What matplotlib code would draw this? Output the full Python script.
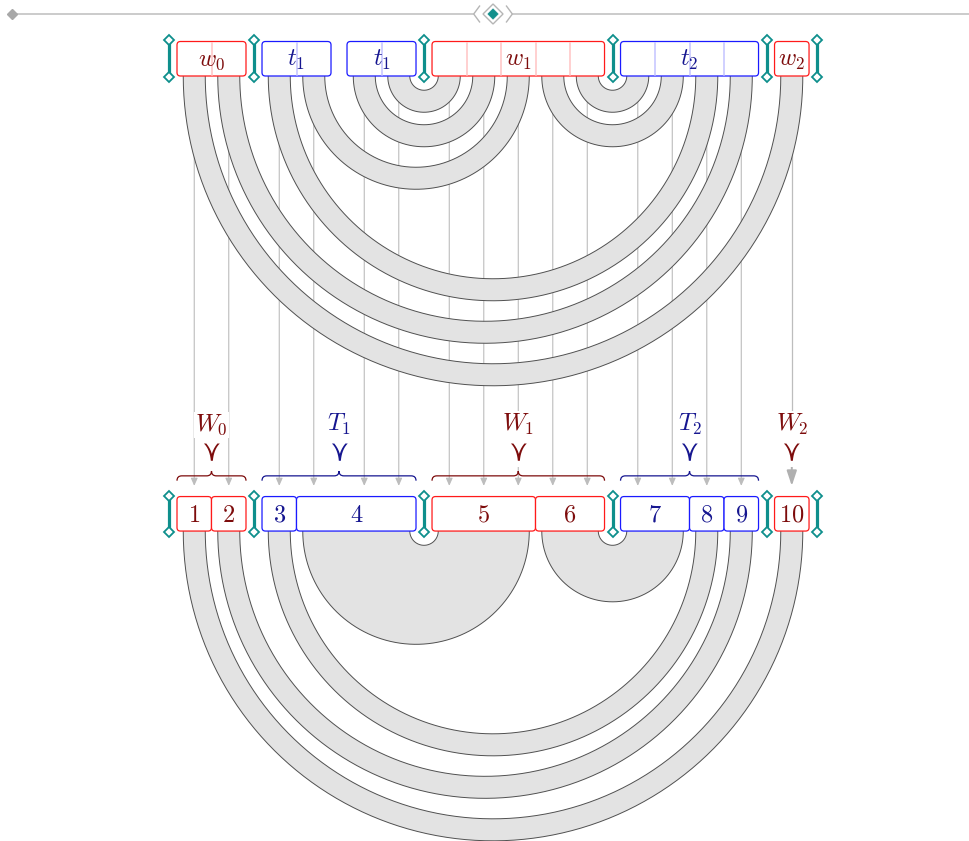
import numpy as np
import matplotlib
matplotlib.use("Agg")
import matplotlib.pyplot as plt
from matplotlib.patches import FancyBboxPatch, Polygon, PathPatch
from matplotlib.path import Path

plt.rcParams["mathtext.fontset"] = "cm"

# ---- diagram data ----
top_labels = [r"$w_0$", r"$t_1$", r"$t_1$", r"$w_1$", r"$t_2$", r"$w_2$"]
top_kinds = ["w", "t", "t", "w", "t", "w"]
top_sizes = [2, 2, 2, 5, 4, 1]
bracket_gaps = [0, 1, 3, 4, 5, 6]          # separators (gap index before group k)

bottom_labels = ["1", "2", "3", "4", "5", "6", "7", "8", "9", "10"]
bottom_kinds = ["w", "w", "t", "t", "w", "w", "t", "t", "t", "w"]
bottom_sizes = [1, 1, 1, 3, 3, 2, 2, 1, 1, 1]

arcs = [(0, 15), (1, 14), (2, 13), (3, 8), (4, 7), (5, 6), (9, 12), (10, 11)]

group_labels = [r"$W_0$", r"$T_1$", r"$W_1$", r"$T_2$", r"$W_2$"]
group_kinds = ["w", "t", "w", "t", "w"]
group_spans = [(0, 1), (2, 5), (6, 10), (11, 14), (15, 15)]

# ---- style / layout ----
U = 34.5            # px per strand unit
GAP = 0.464
HALF = 0.319        # half width of a strand band
TOP_Y = 0.0         # bottom edge of the top row
BOT_Y = 13.19       # bottom edge of the bottom row
ARROW_Y = 11.88
BRACE_Y = 11.59
LABEL_Y = 10.29
VEE_Y = 10.9
ORN_Y = -1.797

EDGE = {"w": "#ff1a1a", "t": "#1a1aff"}
TXT = {"w": "#7d0c0c", "t": "#161690"}
LIGHT = {"w": "#ffc4c4", "t": "#c4c4ff"}
TEAL = "#0e8f8c"
FILL = "#e3e3e3"
ARC_EDGE = "#505050"
LINE = "#bdbdbd"
FS = 17.5

starts = []
x = 0.0
for s in top_sizes:
    starts.append(x)
    x += s + GAP
cells = np.array([starts[g] + k for g, s in enumerate(top_sizes) for k in range(s)])
centers = cells + 0.5
gaps = [starts[0] - GAP / 2] + [starts[g] + top_sizes[g] + GAP / 2 for g in range(len(top_sizes))]

fig = plt.figure(figsize=(9.69, 8.41), dpi=100)
ax = fig.add_axes([0, 0, 1, 1])
xmin, xmax = -177 / U, (969 - 177) / U
ax.set_xlim(xmin, xmax)
ax.set_ylim((841 - 76) / U, -76 / U)
ax.axis("off")


def band(cxo, ro, cxi, ri, yb):
    th = np.linspace(np.pi, 0, 300)
    xo, yo = cxo + ro * np.cos(th), yb + ro * np.sin(th)
    xi, yi = cxi + ri * np.cos(th[::-1]), yb + ri * np.sin(th[::-1])
    ax.fill(np.r_[xo, xi], np.r_[yo, yi], color=FILL, lw=0, zorder=2)
    ax.plot(xo, yo, color=ARC_EDGE, lw=0.7, zorder=2.5)
    ax.plot(xi, yi, color=ARC_EDGE, lw=0.7, zorder=2.5)


def box(x0, w, yb, kind):
    ax.add_patch(FancyBboxPatch((x0, yb - 1), w, 1, boxstyle="round,pad=0,rounding_size=0.1",
                                fc="white", ec=EDGE[kind], lw=0.9, zorder=4))


def brackets(yb):
    for k in bracket_gaps:
        gx = gaps[k]
        ax.plot([gx, gx], [yb - 1, yb], color=TEAL, lw=2.3, solid_capstyle="butt", zorder=5)
        ax.plot([gx, gx], [yb - 1.03, yb + 0.04], ls="none", marker="D", ms=5.2,
                mfc="white", mec=TEAL, mew=1.3, zorder=6)


def brace(x0, x1, y, color, h=0.14):
    xm = (x0 + x1) / 2
    verts = [(x0, y + h), (x0, y), (x0 + h, y), (xm - h, y), (xm, y), (xm, y - h),
             (xm, y), (xm + h, y), (x1 - h, y), (x1, y), (x1, y + h)]
    codes = [Path.MOVETO, Path.CURVE3, Path.CURVE3, Path.LINETO, Path.CURVE3, Path.CURVE3,
             Path.CURVE3, Path.CURVE3, Path.LINETO, Path.CURVE3, Path.CURVE3]
    ax.add_patch(PathPatch(Path(verts, codes), fc="none", ec=color, lw=0.9, zorder=3))


# ---- ornament on top ----
cx = (gaps[0] + gaps[-1]) / 2
ax.plot([xmin + 0.35, cx - 0.57], [ORN_Y, ORN_Y], color=LINE, lw=1.1, zorder=1)
ax.plot([cx + 0.57, xmax], [ORN_Y, ORN_Y], color=LINE, lw=1.1, zorder=1)
ax.plot([xmin + 0.35], [ORN_Y], marker="D", ms=5, color="#a8a8a8", zorder=2)
ax.add_patch(Polygon([(cx - 0.29, ORN_Y), (cx, ORN_Y - 0.29), (cx + 0.29, ORN_Y), (cx, ORN_Y + 0.29)],
                     closed=True, fc="white", ec="#b5b5b5", lw=1.0, zorder=2))
ax.add_patch(Polygon([(cx - 0.15, ORN_Y), (cx, ORN_Y - 0.15), (cx + 0.15, ORN_Y), (cx, ORN_Y + 0.15)],
                     closed=True, fc="#12908c", ec="#12908c", lw=0.5, zorder=3))
for sgn in (-1, 1):
    ax.plot([cx + sgn * 0.39, cx + sgn * 0.56, cx + sgn * 0.39],
            [ORN_Y - 0.23, ORN_Y, ORN_Y + 0.23], color="#b5b5b5", lw=1.0, zorder=2)

# ---- vertical guide lines with arrows ----
for i, xc in enumerate(centers):
    if i == group_spans[-1][0]:
        ax.plot([xc, xc], [TOP_Y - 0.5, LABEL_Y], color=LINE, lw=0.9, zorder=1)
        ax.annotate("", xy=(xc, ARROW_Y), xytext=(xc, VEE_Y + 0.3),
                    arrowprops=dict(arrowstyle="-|>,head_length=0.9,head_width=0.3",
                                    color="#b0b0b0", lw=1.4, shrinkA=0, shrinkB=0), zorder=1)
    else:
        ax.annotate("", xy=(xc, ARROW_Y), xytext=(xc, TOP_Y - 0.5),
                    arrowprops=dict(arrowstyle="-|>,head_length=0.45,head_width=0.2",
                                    color=LINE, lw=0.8, shrinkA=0, shrinkB=0), zorder=1)

# ---- top arcs ----
for i, j in arcs:
    c, r = (centers[i] + centers[j]) / 2, (centers[j] - centers[i]) / 2
    band(c, r + HALF, c, r - HALF, TOP_Y)

# ---- top row ----
for g, s in enumerate(top_sizes):
    k = top_kinds[g]
    box(starts[g], s, TOP_Y, k)
    for d in range(1, s):
        ax.plot([starts[g] + d] * 2, [TOP_Y - 0.97, TOP_Y - 0.03], color=LIGHT[k], lw=1.1, zorder=4.5)
    ax.text(starts[g] + s / 2, TOP_Y - 0.5 + 0.2, top_labels[g], color=TXT[k], fontsize=FS,
            ha="center", va="baseline", zorder=6)
brackets(TOP_Y)

# ---- bottom row ----
box_of = []
box_edges = []
idx = 0
for b, s in enumerate(bottom_sizes):
    box_of += [b] * s
    box_edges.append((cells[idx], cells[idx + s - 1] + 1))
    idx += s

pairs = {}
for i, j in arcs:
    pairs.setdefault((box_of[i], box_of[j]), []).append((i, j))
for key, lst in pairs.items():
    rs = [((centers[i] + centers[j]) / 2, (centers[j] - centers[i]) / 2) for i, j in lst]
    co, ro = max(rs, key=lambda t: t[1])
    ci, ri = min(rs, key=lambda t: t[1])
    band(co, ro + HALF, ci, ri - HALF, BOT_Y)

for b, (x0, x1) in enumerate(box_edges):
    k = bottom_kinds[b]
    box(x0, x1 - x0, BOT_Y, k)
    ax.text((x0 + x1) / 2, BOT_Y - 0.5 + 0.23, "$" + bottom_labels[b] + "$", color=TXT[k],
            fontsize=FS, ha="center", va="baseline", zorder=6)
brackets(BOT_Y)

# ---- group labels and braces ----
for g, (a, b) in enumerate(group_spans):
    k = group_kinds[g]
    x0, x1 = cells[a], cells[b] + 1
    xm = (x0 + x1) / 2
    ax.text(xm, LABEL_Y, group_labels[g], color=TXT[k], fontsize=FS, ha="center", va="baseline",
            zorder=6, bbox=dict(fc="white", ec="none", pad=0.5))
    ax.text(xm, VEE_Y, r"$\curlyvee$", color=TXT[k], fontsize=22, ha="center", va="center",
            math_fontfamily="stix", zorder=6, bbox=dict(fc="white", ec="none", pad=0.3))
    if b > a:
        brace(x0, x1, BRACE_Y, TXT[k])

plt.savefig("out.png", dpi=100)
